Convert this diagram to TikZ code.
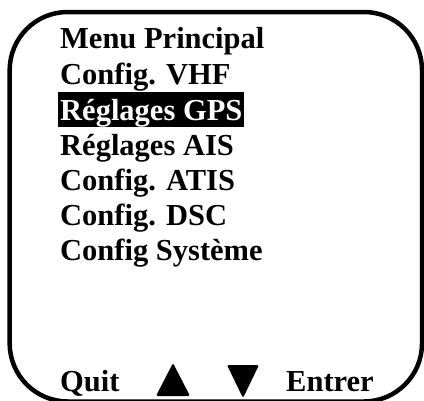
\documentclass[tikz,border=0pt]{standalone}
\usepackage{fontspec}
\setmainfont{Liberation Serif}
\usepackage{tikz}
\usetikzlibrary{positioning}

\tikzset{
  menuitem/.style={anchor=base west, inner sep=0pt, font=\fontsize{30.5}{35}\selectfont\bfseries},
  selected/.style={menuitem, fill=black, text=white, inner xsep=2pt, inner ysep=0pt, text height=28pt, text depth=6.7pt},
  screen/.style={line width=4.5pt, rounded corners=58pt},
}

\begin{document}
\begin{tikzpicture}[x=1pt,y=-1pt]
\useasboundingbox (0,0) rectangle (424,400);
% Screen frame
\draw[screen] (9.7,12) rectangle (422,401.5);

% Menu entries
\foreach \i/\y/\label in {1/48/Menu Principal, 2/84/Config. VHF, 4/155/Réglages AIS, 5/190/Config. ATIS, 6/225/Config. DSC, 7/260/Config Système} {
    \node[menuitem] (item\i) at (60,\y) {\label};
}
% Highlighted entry
\node[selected] (item3) at (58,120) {Réglages GPS};

% Soft keys
\node[menuitem] (quit) at (60,391) {Quit};
\node[menuitem] (enter) at (286,391) {Entrer};
\fill[rounded corners=1.5pt] (156,396) -- (173,363) -- (190,396) -- cycle;
\fill[rounded corners=1.5pt] (227,365) -- (259,365) -- (243,398) -- cycle;
\end{tikzpicture}
\end{document}
